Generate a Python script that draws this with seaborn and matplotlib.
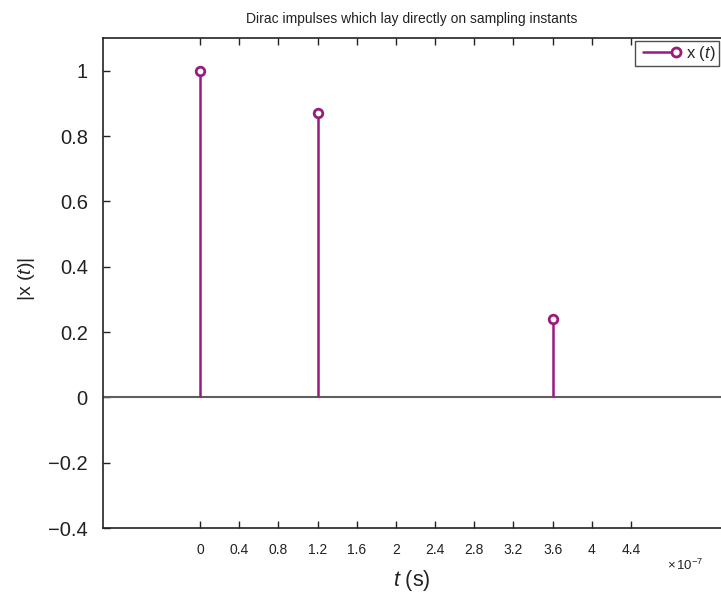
import matplotlib
matplotlib.use("Agg")
import matplotlib.pyplot as plt
import seaborn as sns
import pandas as pd
from matplotlib.lines import Line2D
from matplotlib.legend_handler import HandlerLine2D

# data
t_units = [0.0, 1.2, 3.6]          # in units of 1e-7 s
amplitude = [1.0, 0.872, 0.239]
xtick_vals = [0, 0.4, 0.8, 1.2, 1.6, 2, 2.4, 2.8, 3.2, 3.6, 4, 4.4]
ytick_vals = [-0.4, -0.2, 0, 0.2, 0.4, 0.6, 0.8, 1.0]
ytick_labels = ["\u22120.4", "\u22120.2", "0", "0.2", "0.4", "0.6", "0.8", "1"]

sns.set_style("ticks")
plt.rcParams['font.family'] = ['Liberation Sans', 'DejaVu Sans']
plt.rcParams['mathtext.fontset'] = 'custom'
plt.rcParams['mathtext.rm'] = 'Liberation Sans'
plt.rcParams['mathtext.it'] = 'Liberation Sans:italic'
plt.rcParams['mathtext.default'] = 'rm'

color = "#9b1a7d"
txt_color = "#222222"
df = pd.DataFrame({"t": t_units, "amp": amplitude})

fig = plt.figure(figsize=(7.21, 5.96), dpi=100)
ax = fig.add_axes([0.143, 0.114, 0.857, 0.822])

ax.axhline(0, color="#5f5f5f", lw=1.5, zorder=1)
ax.vlines(df["t"], 0, df["amp"], color=color, lw=1.8, zorder=2)
sns.scatterplot(data=df, x="t", y="amp", ax=ax, marker="o", s=38,
                facecolor="white", edgecolor=color, linewidth=2.0, zorder=3, legend=False)

ax.set_xlim(-0.99, 5.32)
ax.set_ylim(-0.4, 1.1)
ax.set_xticks(xtick_vals)
ax.set_xticklabels([f"{v:g}" for v in xtick_vals], fontsize=10, color=txt_color)
ax.set_yticks(ytick_vals)
ax.set_yticklabels(ytick_labels, fontsize=14.5, color=txt_color)
ax.tick_params(axis="x", direction="in", length=5, width=1, pad=11, top=True, labeltop=False, color=txt_color)
ax.tick_params(axis="y", direction="in", length=5, width=1, pad=11, right=False, color=txt_color)
for s in ax.spines.values():
    s.set_color(txt_color)
    s.set_linewidth(1.2)
ax.spines["right"].set_visible(False)

ax.set_xlabel(r"$\mathit{t}$ (s)", fontsize=15.5, labelpad=8, color=txt_color)
ax.set_ylabel(r"|x $\mathit{(t)|}$", fontsize=14, color=txt_color)
ax.yaxis.set_label_coords(-0.107, 0.508)
ax.set_title("Dirac impulses which lay directly on sampling instants", fontsize=10, pad=11, color=txt_color)

ax.text(0.972, -0.076, r"$\times\,10^{-7}$", transform=ax.transAxes, ha="right", va="center",
        fontsize=9.5, color=txt_color)


class EndMarkerHandler(HandlerLine2D):
    def create_artists(self, legend, orig_handle, xdescent, ydescent, width, height, fontsize, trans):
        artists = super().create_artists(legend, orig_handle, xdescent, ydescent, width, height, fontsize, trans)
        for a in artists:
            if a.get_marker() not in (None, "None", ""):
                a.set_markevery([1])
        return artists


h = Line2D([0, 1], [0, 0], color=color, lw=1.8, marker="o", markersize=6.5,
           markerfacecolor="white", markeredgecolor=color, markeredgewidth=2.0)
leg = ax.legend([h], [r"x $\mathit{(t)}$"], loc="upper right", fontsize=12,
                handler_map={Line2D: EndMarkerHandler(numpoints=2)},
                frameon=True, fancybox=False, edgecolor=txt_color, borderpad=0.2,
                handlelength=2.6, handletextpad=0.25, borderaxespad=0.15)
leg.get_frame().set_linewidth(1.0)

fig.savefig("out.png", dpi=100)
